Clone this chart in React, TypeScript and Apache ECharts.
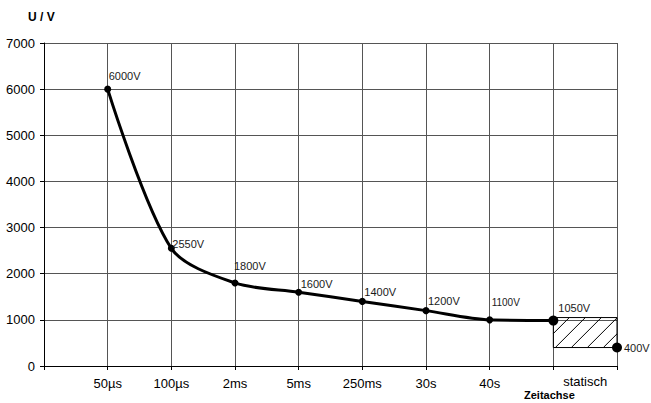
import React, { useEffect, useRef } from "react";
import * as echarts from "echarts";

// ---- data ----
const categories = ["", "50µs", "100µs", "2ms", "5ms", "250ms", "30s", "40s", "", ""];
const staticCategory = "statisch";
const curveValues = [6000, 2550, 1800, 1600, 1400, 1200, 1000, 985];
const curveLabels = ["6000V", "2550V", "1800V", "1600V", "1400V", "1200V", "1100V", "1050V"];
const staticValue = [400];
const staticLabels = ["400V"];
const staticBand = [1050, 400];
const yAxisName = "U / V";
const xAxisName = "Zeitachse";

// ---- layout (styling only) ----
const labelOffsets: number[][] = [
  [1, -13], [1, -4], [-1, -17], [2, -8], [2, -9], [2, -10], [2, -17], [5, -13],
];
const symbolSizes = [7, 7, 7, 7, 7, 7, 7, 10];

const FONT = "Liberation Sans, Arial, sans-serif";

const baseLabel = {
  show: true,
  position: "inside",
  align: "left",
  verticalAlign: "middle",
  fontSize: 11,
  color: "#1a1a1a",
  textBorderWidth: 0,
  textBorderColor: "transparent",
  fontFamily: FONT,
};

export default function App() {
  const ref = useRef<HTMLDivElement>(null);
  useEffect(() => {
    document.body.style.margin = "0";
    const chart = echarts.init(ref.current!, null, { renderer: "svg" });
    const lastX = categories.length - 1;
    const curveData = curveValues.map((v, i) => ({
      value: [i + 1, v],
      symbolSize: symbolSizes[i],
      label: {
        ...baseLabel,
        formatter: curveLabels[i],
        offset: labelOffsets[i],
        fontSize: i === 6 ? 10 : 11,
      },
    }));
    const option: any = {
      animation: false,
      color: ["#000"],
      grid: { left: 44, right: 34, top: 43, bottom: 37 },
      xAxis: [
        {
          type: "value",
          min: 0,
          max: lastX,
          interval: 1,
          axisLine: { show: true, lineStyle: { color: "#000", width: 1 } },
          axisTick: { show: true, length: 4, lineStyle: { color: "#000" } },
          splitLine: { show: true, lineStyle: { color: "#555", width: 1 } },
          axisLabel: {
            formatter: (v: number) => categories[Math.round(v)] ?? "",
            fontSize: 13,
            color: "#000",
            fontFamily: FONT,
            margin: 11,
            showMinLabel: true,
            showMaxLabel: true,
          },
        },
        {
          type: "value",
          position: "bottom",
          min: 0,
          max: lastX,
          interval: 0.5,
          axisLine: { show: false },
          axisTick: { show: false },
          splitLine: { show: false },
          axisLabel: {
            formatter: (v: number) => (Math.abs(v - (lastX - 0.5)) < 1e-6 ? staticCategory : ""),
            fontSize: 13,
            color: "#000",
            fontFamily: FONT,
            margin: 9,
          },
        },
      ],
      yAxis: {
        type: "value",
        min: 0,
        max: 7000,
        interval: 1000,
        axisLine: { show: true, lineStyle: { color: "#000", width: 1 } },
        axisTick: { show: true, length: 4, lineStyle: { color: "#000" } },
        splitLine: { show: true, lineStyle: { color: "#555", width: 1 } },
        axisLabel: {
          formatter: (v: number) => String(v),
          fontSize: 13,
          color: "#000",
          fontFamily: FONT,
          margin: 9,
        },
      },
      graphic: [
        {
          type: "text",
          left: 28,
          top: 11,
          style: { text: yAxisName, font: `bold 12px ${FONT}`, fill: "#000" },
        },
        {
          type: "text",
          left: 524,
          top: 389,
          style: { text: xAxisName, font: `bold 11px ${FONT}`, fill: "#000" },
        },
      ],
      series: [
        {
          type: "custom",
          xAxisIndex: 0,
          clip: false,
          silent: true,
          data: [[lastX - 1, staticBand[0], lastX, staticBand[1]]],
          renderItem: (params: any, api: any) => {
            const p0 = api.coord([api.value(0), api.value(1)]);
            const p1 = api.coord([api.value(2), api.value(3)]);
            const x0 = p0[0], y0 = p0[1], x1 = p1[0], y1 = p1[1];
            const children: any[] = [];
            const step = 16;
            for (let c = x0 + y0 + step; c < x1 + y1; c += step) {
              const xa = Math.max(x0, c - y1);
              const xb = Math.min(x1, c - y0);
              if (xb <= xa) continue;
              children.push({
                type: "line",
                shape: { x1: xa, y1: c - xa, x2: xb, y2: c - xb },
                style: { stroke: "#000", lineWidth: 1 },
              });
            }
            children.push({
              type: "rect",
              shape: { x: x0, y: y0, width: x1 - x0, height: y1 - y0 },
              style: { fill: "none", stroke: "#000", lineWidth: 1 },
            });
            return { type: "group", children };
          },
        },
        {
          type: "line",
          xAxisIndex: 0,
          data: curveData,
          smooth: 0.3,
          symbol: "circle",
          showAllSymbol: true,
          clip: false,
          color: "#000",
          label: { ...baseLabel },
          lineStyle: { color: "#000", width: 3 },
          itemStyle: { color: "#000" },
        },
        {
          type: "scatter",
          xAxisIndex: 0,
          clip: false,
          symbol: "circle",
          symbolSize: 10,
          color: "#000",
          itemStyle: { color: "#000", opacity: 1 },
          label: { ...baseLabel },
          data: staticValue.map((v, i) => ({
            value: [lastX, v],
            label: {
              ...baseLabel,
              formatter: staticLabels[i],
              offset: [7, 0],
            },
          })),
        },
      ],
    };
    chart.setOption(option);
    return () => chart.dispose();
  }, []);
  return <div ref={ref} style={{ width: 651, height: 403 }} />;
}
